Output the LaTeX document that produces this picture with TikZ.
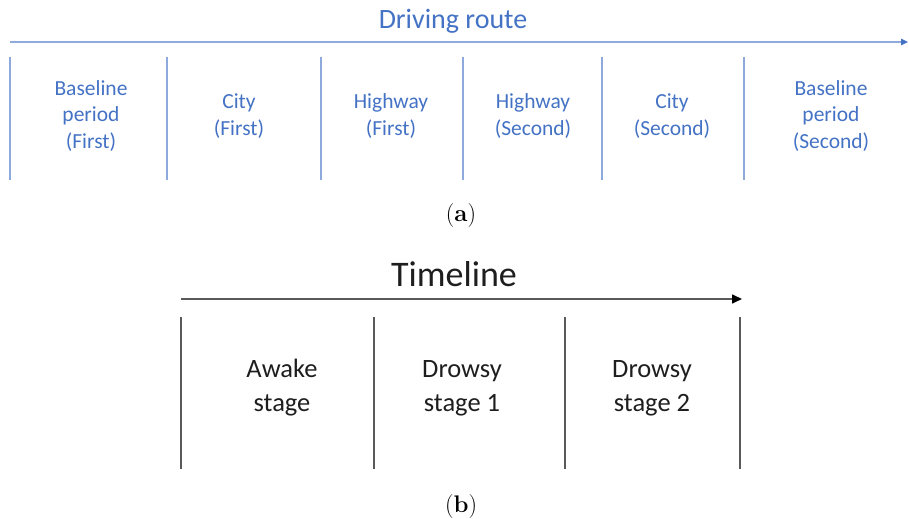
\documentclass[tikz,border=0pt]{standalone}
\usepackage{fontspec}
\setmainfont{Carlito}
\newfontfamily\capfont{Latin Modern Roman}
\usetikzlibrary{arrows.meta}
\definecolor{routeblue}{HTML}{4472C4}
\definecolor{routeline}{HTML}{8EA9DB}
\definecolor{timegray}{HTML}{595959}
\definecolor{timetext}{HTML}{1E1E1E}
\begin{document}
\begin{tikzpicture}[x=1bp,y=-1bp,
  routerule/.style={draw=routeline,line width=1.4bp},
  routearrow/.style={routerule,-{Triangle[length=7bp,width=6.5bp,fill=routeblue,color=routeblue]}},
  routelabel/.style={text=routeblue,align=center,font=\fontsize{21.5bp}{26.5bp}\selectfont,inner sep=0pt},
  routetitle/.style={text=routeblue,font=\fontsize{28bp}{32bp}\selectfont,inner sep=0pt},
  timerule/.style={draw=timegray,line width=1.6bp},
  timearrow/.style={timerule,-{Triangle[length=10bp,width=9bp,fill=black,color=black]}},
  timelabel/.style={text=timetext,align=center,font=\fontsize{26.5bp}{34bp}\selectfont,inner sep=0pt},
  timetitle/.style={text=timetext,font=\fontsize{36bp}{40bp}\selectfont,inner sep=0pt},
  caption/.style={font=\fontsize{24bp}{28bp}\capfont,inner sep=0pt}]
\useasboundingbox (0,0) rectangle (909,519);

% ---- (a) driving route ----
\node[routetitle] (route) at (453,21) {Driving route};
\coordinate (rs) at (10,42);
\coordinate (re) at (908,42);
\draw[routearrow] (rs) -- (re);
\foreach \x [count=\i] in {10,167,321,463,602,744}{
  \coordinate (rt\i) at (\x,57);
  \coordinate (rb\i) at (\x,180);
  \draw[routerule] (rt\i) -- (rb\i);
}
\node[routelabel] (base1) at (91,116) {Baseline\\period\\(First)};
\node[routelabel] (city1) at (239,116) {City\\(First)};
\node[routelabel] (high1) at (391,116) {Highway\\(First)};
\node[routelabel] (high2) at (533,116) {Highway\\(Second)};
\node[routelabel] (city2) at (672,116) {City\\(Second)};
\node[routelabel] (base2) at (831,116) {Baseline\\period\\(Second)};
\node[caption] (capa) at (461,216) {(\textbf{a})};

% ---- (b) timeline ----
\node[timetitle] (time) at (454,274) {Timeline};
\coordinate (ts) at (181,299);
\coordinate (te) at (742,299);
\draw[timearrow] (ts) -- (te);
\foreach \x [count=\i] in {181,374,565,740}{
  \coordinate (tt\i) at (\x,317);
  \coordinate (tb\i) at (\x,469);
  \draw[timerule] (tt\i) -- (tb\i);
}
\node[timelabel] (awake) at (282,388) {Awake\\stage};
\node[timelabel] (drowsy1) at (462,388) {Drowsy\\stage 1};
\node[timelabel] (drowsy2) at (652,388) {Drowsy\\stage 2};
\node[caption] (capb) at (461,507) {(\textbf{b})};
\end{tikzpicture}
\end{document}
